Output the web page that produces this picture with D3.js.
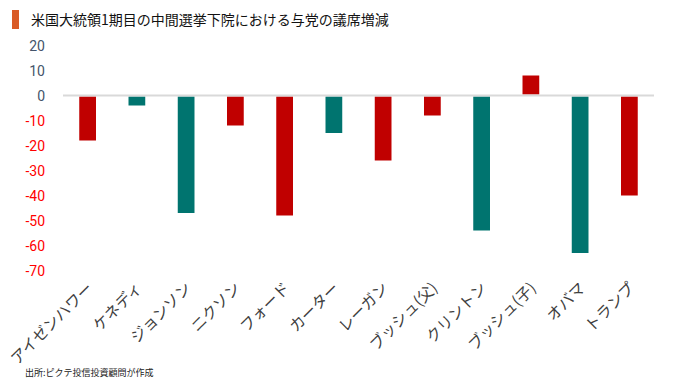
<!DOCTYPE html>
<html>
<head>
<meta charset="utf-8">
<script src="https://cdn.jsdelivr.net/npm/d3@7"></script>
<style>
  body { margin: 0; background: #fff; }
  svg { font-family: "Noto Sans CJK JP", "Noto Sans", sans-serif; }
</style>
</head>
<body>
<svg width="680" height="385"></svg>
<script>
// data
var presidents = ["アイゼンハワー", "ケネディ", "ジョンソン", "ニクソン", "フォード", "カーター",
                  "レーガン", "ブッシュ(父)", "クリントン", "ブッシュ(子)", "オバマ", "トランプ"];
var seats = [-18, -4, -47, -12, -48, -15, -26, -8, -54, 8, -63, -40];
var party = ["R", "D", "D", "R", "R", "D", "R", "R", "D", "R", "D", "R"];
var ticks = [20, 10, 0, -10, -20, -30, -40, -50, -60, -70];

var partyColor = { R: "#c00000", D: "#00746f" };

var svg = d3.select("svg");

// title
svg.append("rect")
    .attr("x", 12).attr("y", 10)
    .attr("width", 7).attr("height", 19)
    .attr("fill", "#d95b27");
svg.append("text")
    .attr("x", 31).attr("y", 25)
    .attr("font-size", 14)
    .attr("fill", "#111")
    .text("米国大統領1期目の中間選挙下院における与党の議席増減");

// scales
var x = d3.scaleBand()
    .domain(presidents)
    .range([63, 654])
    .paddingInner(0.66)
    .paddingOuter(0.33);

var y = d3.scaleLinear()
    .domain([-70, 20])
    .range([270.5, 45.5]);

// y axis labels
svg.append("g")
    .selectAll("text")
    .data(ticks)
    .enter()
    .append("text")
    .attr("x", 45)
    .attr("y", function (d) { return y(d) + 5; })
    .attr("text-anchor", "end")
    .attr("font-family", "Roboto, sans-serif")
    .attr("font-size", 14)
    .attr("fill", function (d) { return d < 0 ? "#ff0000" : "#44546a"; })
    .text(function (d) { return d; });

// bars
svg.append("g")
    .selectAll("rect")
    .data(seats)
    .enter()
    .append("rect")
    .attr("x", function (d, i) { return x(presidents[i]); })
    .attr("width", x.bandwidth())
    .attr("y", function (d) { return d > 0 ? y(d) : y(0) + 1; })
    .attr("height", function (d) { return Math.abs(y(d) - y(0)) - 1; })
    .attr("fill", function (d, i) { return partyColor[party[i]]; });

// zero line
svg.append("line")
    .attr("x1", 63).attr("x2", 654)
    .attr("y1", y(0)).attr("y2", y(0))
    .attr("stroke", "#d9d9d9")
    .attr("stroke-width", 2);

// category labels
svg.append("g")
    .selectAll("text")
    .data(presidents)
    .enter()
    .append("text")
    .attr("transform", function (d) {
        return "translate(" + (x(d) + x.bandwidth() / 2 + 6) + ",289) rotate(-45)";
    })
    .attr("text-anchor", "end")
    .attr("font-size", 15.5)
    .attr("fill", "#404040")
    .text(function (d) { return d; });

// source
svg.append("text")
    .attr("x", 25).attr("y", 376)
    .attr("font-size", 9)
    .attr("fill", "#222")
    .text("出所:ピクテ投信投資顧問が作成");
</script>
</body>
</html>
